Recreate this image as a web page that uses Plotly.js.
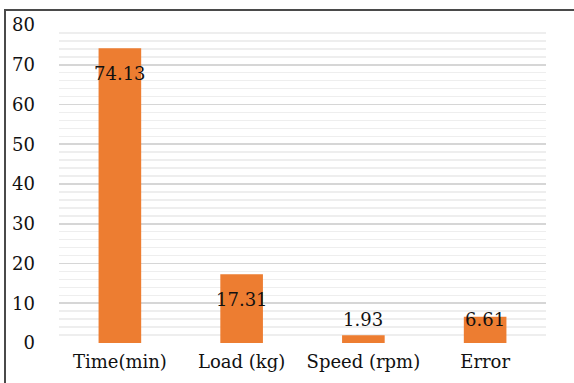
<!DOCTYPE html>
<html>
<head>
<meta charset="utf-8">
<script src="https://cdn.plot.ly/plotly-3.0.1.min.js"></script>
<style>
  html, body { margin: 0; padding: 0; background: #fff; }
  #wrap { position: relative; width: 574px; height: 383px; overflow: hidden; }
  #chart { position: absolute; left: 0; top: 0; width: 574px; height: 383px; }
  .edge { position: absolute; background: #4a4a4a; }
</style>
</head>
<body>
<div id="wrap">
  <div id="chart"></div>
  <div class="edge" style="left:4px; top:9px; width:2px; height:374px;"></div>
  <div class="edge" style="left:4px; top:9px; width:570px; height:2px;"></div>
</div>
<script>
// Measured quantities
const categories = ['Time(min)', 'Load (kg)', 'Speed (rpm)', 'Error'];
const values = [74.13, 17.31, 1.93, 6.61];
const valueLabels = ['74.13', '17.31', '1.93', '6.61'];
const yTicks = [0, 10, 20, 30, 40, 50, 60, 70, 80];

// Vertical nudge (px) of each value label relative to its bar top
const labelShift = [-25, -25, 16, -3];

const serif = 'DejaVu Serif';
const fsize = 18;

const trace = {
  type: 'bar',
  x: categories,
  y: values,
  marker: { color: '#ED7D31' },
  width: 0.35,
  hoverinfo: 'skip'
};

const annotations = categories.map((c, i) => ({
  x: c,
  y: values[i],
  xref: 'x',
  yref: 'y',
  text: valueLabels[i],
  showarrow: false,
  yanchor: 'middle',
  xanchor: 'center',
  yshift: labelShift[i],
  font: { family: serif, size: fsize, color: '#111111' }
}));

const layout = {
  width: 574,
  height: 383,
  margin: { l: 59, r: 28, t: 25, b: 40, pad: 0 },
  paper_bgcolor: '#ffffff',
  plot_bgcolor: '#ffffff',
  showlegend: false,
  font: { family: serif, size: fsize, color: '#111111' },
  xaxis: {
    type: 'category',
    showgrid: false,
    showline: false,
    zeroline: false,
    ticks: '',
    tickangle: 0,
    ticklabelstandoff: 6,
    tickfont: { family: serif, size: fsize, color: '#111111' }
  },
  yaxis: {
    range: [0, 80],
    tickvals: yTicks,
    ticktext: yTicks.map(String),
    showgrid: true,
    gridcolor: '#d6d6d6',
    gridwidth: 1.6,
    zeroline: false,
    showline: false,
    ticks: '',
    ticklabelstandoff: 23,
    tickfont: { family: serif, size: fsize, color: '#111111' },
    minor: { dtick: 2, showgrid: true, gridcolor: '#eeeeee', gridwidth: 1.5 }
  },
  annotations: annotations
};

Plotly.newPlot('chart', [trace], layout, { displayModeBar: false, staticPlot: true });
</script>
</body>
</html>
